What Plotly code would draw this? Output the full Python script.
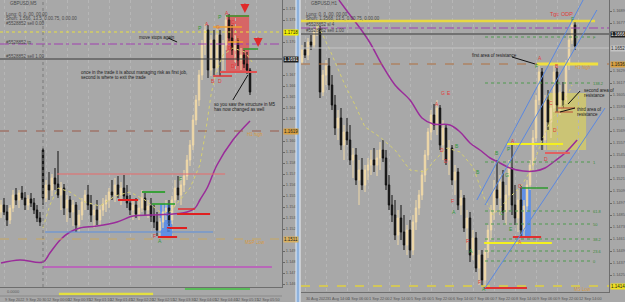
import plotly.graph_objects as go

W, H = 625, 302
BG = "#a8a8a8"
FONT = "Liberation Sans"

# ---------------- LEFT PANEL : GBPUSD,M5 ----------------
left_open = [1.1538,1.1545,1.1538,1.1530,1.1542,1.1555,1.1550,1.1557,1.1552,1.1545,
             1.1551,1.1547,1.1540,1.1532,1.1600,1.1552,1.1565,1.1560,1.1572,1.1566,
             1.1555,1.1562,1.1542,1.1550,1.1538,1.1545,1.1525,1.1535,1.1548,1.1555,
             1.1545,1.1535,1.1540,1.1530,1.1540,1.1546,1.1550,1.1558,1.1555,1.1565,
             1.1555,1.1562,1.1554,1.1547,1.1540,1.1545,1.1536,1.1542,1.1552,1.1540,
             1.1544,1.1534,1.1528,1.1520,1.1528,1.1538,1.1542,1.1530,1.1550,1.1562,
             1.1555,1.1565,1.1574,1.1590,1.1605,1.1630,1.1650,1.1675,1.1705,1.1720,
             1.1680,1.1710,1.1682,1.1715,1.1690,1.1705,1.1730,1.1712,1.1700,1.1708,
             1.1690,1.1695,1.1686,1.1680]
left_high = [1.1550,1.1552,1.1545,1.1545,1.1560,1.1562,1.1560,1.1564,1.1558,1.1555,
             1.1557,1.1552,1.1545,1.1538,1.1602,1.1570,1.1578,1.1576,1.1582,1.1599,
             1.1568,1.1566,1.1555,1.1554,1.1550,1.1548,1.1540,1.1552,1.1560,1.1565,
             1.1555,1.1545,1.1550,1.1545,1.1552,1.1555,1.1562,1.1570,1.1572,1.1574,
             1.1568,1.1575,1.1565,1.1555,1.1550,1.1552,1.1550,1.1560,1.1558,1.1550,
             1.1552,1.1545,1.1538,1.1532,1.1545,1.1550,1.1550,1.1554,1.1570,1.1574,
             1.1572,1.1580,1.1595,1.1610,1.1635,1.1655,1.1680,1.1710,1.1726,1.1725,
             1.1715,1.1720,1.1722,1.1720,1.1710,1.1734,1.1736,1.1725,1.1715,1.1712,
             1.1702,1.1700,1.1698,1.1682]
left_low = [1.1532,1.1535,1.1524,1.1526,1.1538,1.1545,1.1542,1.1550,1.1540,1.1540,
            1.1543,1.1536,1.1528,1.1524,1.1545,1.1548,1.1550,1.1554,1.1560,1.1552,
            1.1540,1.1535,1.1528,1.1532,1.1524,1.1518,1.1518,1.1530,1.1540,1.1540,
            1.1528,1.1522,1.1525,1.1524,1.1534,1.1538,1.1542,1.1550,1.1548,1.1552,
            1.1545,1.1550,1.1542,1.1535,1.1530,1.1532,1.1530,1.1538,1.1535,1.1532,
            1.1528,1.1522,1.1514,1.1512,1.1522,1.1530,1.1524,1.1526,1.1544,1.1550,
            1.1545,1.1558,1.1570,1.1584,1.1600,1.1625,1.1644,1.1670,1.1695,1.1672,
            1.1674,1.1675,1.1678,1.1674,1.1680,1.1700,1.1708,1.1695,1.1688,1.1684,
            1.1680,1.1682,1.1676,1.1655]
left_close = [1.1545,1.1538,1.1530,1.1542,1.1555,1.1550,1.1557,1.1552,1.1545,1.1551,
              1.1547,1.1540,1.1532,1.1528,1.1552,1.1565,1.1560,1.1572,1.1566,1.1555,
              1.1562,1.1542,1.1550,1.1538,1.1545,1.1525,1.1535,1.1548,1.1555,1.1545,
              1.1535,1.1540,1.1530,1.1540,1.1546,1.1550,1.1558,1.1555,1.1565,1.1555,
              1.1562,1.1554,1.1547,1.1540,1.1545,1.1536,1.1542,1.1552,1.1540,1.1544,
              1.1534,1.1528,1.1520,1.1528,1.1538,1.1542,1.1530,1.1550,1.1562,1.1555,
              1.1565,1.1574,1.1590,1.1605,1.1630,1.1650,1.1675,1.1705,1.1720,1.1680,
              1.1710,1.1682,1.1715,1.1690,1.1705,1.1730,1.1712,1.1700,1.1708,1.1690,
              1.1695,1.1686,1.1680,1.1658]

left_ma_x = [0, 6.3, 14, 16.3, 19.7, 23, 26.3, 32, 38.7, 44, 49.7, 57.3, 62, 64.7, 66.3, 68.7, 72, 77.3, 83]
left_ma_y = [1.1487, 1.1490, 1.1488, 1.1497, 1.1510, 1.1518, 1.1522, 1.1524, 1.1528, 1.1534,
             1.1535, 1.1536, 1.1538, 1.1542, 1.1550, 1.1562, 1.1585, 1.1610, 1.1629]
left_fast_x = [14, 16.3, 19, 23, 28, 33, 38, 43, 48, 53, 56.3, 59.7, 63, 66.3, 68.3, 70, 71.7, 74, 77.3, 81.3, 83.7]
left_fast_y = [1.1522, 1.1545, 1.1562, 1.1558, 1.1548, 1.1544, 1.1554, 1.1558, 1.1550, 1.1538,
               1.1538, 1.1550, 1.1562, 1.1585, 1.1620, 1.1655, 1.1678, 1.1695, 1.1702, 1.1698, 1.1688]

left_tick_pos = [1, 8, 15, 22, 29, 36, 43, 50, 57, 64, 71, 78, 85]
left_tick_text = ["9 Sep 2022", "9 Sep 20:30", "12 Sep 00:00", "12 Sep 00:35", "12 Sep 01:10",
                  "12 Sep 01:45", "12 Sep 02:20", "12 Sep 02:55", "12 Sep 03:30", "12 Sep 04:05",
                  "12 Sep 04:40", "12 Sep 05:15", "12 Sep 05:50"]
left_price_ticks = [1.1741, 1.1730, 1.1708, 1.1675, 1.1664, 1.1653, 1.1642, 1.1631,
                    1.1609, 1.1598, 1.1587, 1.1576, 1.1565, 1.1554, 1.1543, 1.1532, 1.1521,
                    1.1499, 1.1488, 1.1477, 1.1466]

# ---------------- RIGHT PANEL : GBPUSD,H1 ----------------
right_open = [1.1638,1.1650,1.1645,1.1658,1.1655,1.1668,1.1672,1.1608,1.1625,1.1634,
              1.1615,1.1595,1.1572,1.1582,1.1555,1.1568,1.1560,1.1540,1.1545,1.1520,
              1.1530,1.1515,1.1530,1.1535,1.1540,1.1535,1.1542,1.1550,1.1542,1.1515,
              1.1495,1.1485,1.1465,1.1482,1.1468,1.1455,1.1470,1.1450,1.1478,1.1492,
              1.1505,1.1525,1.1545,1.1568,1.1585,1.1575,1.1592,1.1555,1.1572,1.1540,
              1.1552,1.1520,1.1528,1.1495,1.1502,1.1472,1.1482,1.1445,1.1462,1.1432,
              1.1445,1.1420,1.1448,1.1470,1.1488,1.1510,1.1502,1.1518,1.1488,1.1505,
              1.1532,1.1495,1.1482,1.1500,1.1470,1.1494,1.1515,1.1535,1.1562,1.1600,
              1.1628,1.1560,1.1600,1.1578,1.1592,1.1628,1.1595,1.1608,1.1600,1.1635,
              1.1660,1.1675]
right_high = [1.1655,1.1658,1.1662,1.1665,1.1672,1.1677,1.1674,1.1630,1.1640,1.1642,
              1.1625,1.1605,1.1590,1.1592,1.1575,1.1582,1.1575,1.1552,1.1552,1.1540,
              1.1542,1.1535,1.1542,1.1550,1.1552,1.1550,1.1558,1.1560,1.1550,1.1525,
              1.1505,1.1500,1.1490,1.1495,1.1485,1.1475,1.1480,1.1485,1.1500,1.1510,
              1.1530,1.1550,1.1572,1.1590,1.1596,1.1600,1.1595,1.1580,1.1575,1.1560,
              1.1555,1.1535,1.1532,1.1510,1.1505,1.1490,1.1488,1.1470,1.1468,1.1450,
              1.1450,1.1452,1.1475,1.1495,1.1520,1.1540,1.1525,1.1530,1.1515,1.1540,
              1.1555,1.1515,1.1510,1.1515,1.1500,1.1520,1.1540,1.1570,1.1605,1.1634,
              1.1632,1.1605,1.1610,1.1600,1.1634,1.1632,1.1615,1.1618,1.1640,1.1665,
              1.1680,1.1678]
right_low = [1.1636,1.1642,1.1640,1.1650,1.1652,1.1664,1.1602,1.1604,1.1615,1.1610,
             1.1590,1.1565,1.1560,1.1550,1.1540,1.1555,1.1535,1.1522,1.1515,1.1495,
             1.1510,1.1508,1.1520,1.1525,1.1528,1.1524,1.1530,1.1538,1.1510,1.1490,
             1.1478,1.1460,1.1455,1.1460,1.1450,1.1445,1.1442,1.1445,1.1470,1.1485,
             1.1500,1.1518,1.1540,1.1560,1.1570,1.1565,1.1550,1.1540,1.1535,1.1525,
             1.1515,1.1505,1.1490,1.1485,1.1468,1.1450,1.1438,1.1440,1.1428,1.1415,
             1.1414,1.1414,1.1442,1.1460,1.1480,1.1495,1.1485,1.1480,1.1475,1.1490,
             1.1485,1.1475,1.1468,1.1462,1.1464,1.1488,1.1510,1.1530,1.1558,1.1595,
             1.1550,1.1550,1.1570,1.1562,1.1588,1.1588,1.1585,1.1592,1.1596,1.1630,
             1.1656,1.1650]
right_close = [1.1650,1.1645,1.1658,1.1655,1.1668,1.1672,1.1608,1.1625,1.1634,1.1615,
               1.1595,1.1572,1.1582,1.1555,1.1568,1.1560,1.1540,1.1545,1.1520,1.1530,
               1.1515,1.1530,1.1535,1.1540,1.1535,1.1542,1.1550,1.1542,1.1515,1.1495,
               1.1485,1.1465,1.1482,1.1468,1.1455,1.1470,1.1450,1.1478,1.1492,1.1505,
               1.1525,1.1545,1.1568,1.1585,1.1575,1.1592,1.1555,1.1572,1.1540,1.1552,
               1.1520,1.1528,1.1495,1.1502,1.1472,1.1482,1.1445,1.1462,1.1432,1.1445,
               1.1420,1.1448,1.1470,1.1488,1.1510,1.1502,1.1518,1.1488,1.1505,1.1532,
               1.1495,1.1482,1.1500,1.1470,1.1494,1.1515,1.1535,1.1562,1.1600,1.1628,
               1.1560,1.1600,1.1578,1.1592,1.1628,1.1595,1.1608,1.1600,1.1635,1.1660,
               1.1675,1.1654]

right_ma_x = [12.3, 16, 19.3, 22.7, 26.7, 31, 36, 40, 43.7, 49.3, 52.7, 56, 59.3, 62.7, 66, 69.3, 73.7, 77.7, 81, 84.3, 87.7, 91.7]
right_ma_y = [1.1700, 1.1685, 1.1672, 1.1657, 1.1635, 1.1615, 1.1600, 1.1582, 1.1576, 1.1575, 1.1568,
              1.1557, 1.1550, 1.1542, 1.1537, 1.1532, 1.1529, 1.1529, 1.1532, 1.1539, 1.1547, 1.1560]
right_fast_x = [5.3, 9.3, 14.3, 17.7, 21, 26, 31, 36, 41, 44.3, 48.3, 52.7, 57, 61, 63.7, 66.7, 70, 73.3, 76.7, 80, 83.3, 86.7, 90]
right_fast_y = [1.1675, 1.1650, 1.1615, 1.1595, 1.1573, 1.1563, 1.1550, 1.1530, 1.1528, 1.1540, 1.1552, 1.1548,
                1.1533, 1.1500, 1.1485, 1.1495, 1.1505, 1.1515, 1.1532, 1.1560, 1.1582, 1.1592, 1.1615]

right_tick_pos = [1, 8, 15, 22, 29, 36, 43, 50, 57, 64, 71, 78, 85, 92]
right_tick_text = ["30 Aug 2022", "31 Aug 14:00", "1 Sep 06:00", "1 Sep 22:00", "2 Sep 14:00",
                   "5 Sep 06:00", "5 Sep 22:00", "6 Sep 14:00", "7 Sep 06:00", "7 Sep 22:00",
                   "8 Sep 14:00", "9 Sep 06:00", "9 Sep 22:00", "12 Sep 14:00"]
right_price_ticks = [1.1689, 1.1677, 1.1629, 1.1617, 1.1605, 1.1593, 1.1581, 1.1569, 1.1557,
                     1.1545, 1.1533, 1.1521, 1.1509, 1.1497, 1.1485, 1.1473, 1.1461, 1.1449,
                     1.1437, 1.1425]

# levels (price) drawn across the full panel
left_full_levels = [1.1718, 1.1706, 1.1691, 1.1619, 1.1511]
right_full_levels = [1.1672, 1.1666, 1.1652, 1.1636, 1.1414]

# segments: (x0, x1, price)
left_segments = [(18.7, 74.7, 1.1576), (14.7, 70.7, 1.1518), (47, 54.7, 1.1558), (50.3, 58, 1.1546),
                 (39, 45.7, 1.1550), (59, 64.7, 1.1541), (58.7, 69.7, 1.1536), (55.3, 62, 1.1522),
                 (52.3, 58.7, 1.1513), (75, 82.7, 1.1734), (80.7, 85.7, 1.1701), (70.7, 80.3, 1.1723),
                 (75.7, 80.7, 1.1708), (73, 85.3, 1.1678), (70.7, 77, 1.1674), (14, 90.3, 1.1483)]
right_segments = [(-0.3, 97.7, 1.1679), (78.3, 98.7, 1.1636), (61, 96, 1.1663), (61, 96, 1.1617),
                  (61, 96, 1.1538), (61, 96, 1.1489), (61, 96, 1.1476), (61, 96, 1.1461), (61, 96, 1.1449),
                  (61, 96, 1.1439), (68.3, 87, 1.1556), (81, 89.3, 1.1547), (73.3, 82, 1.1512),
                  (70.3, 79.7, 1.1463), (60.7, 83.3, 1.1457), (60.7, 75, 1.1412), (85.3, 91, 1.1592),
                  (84.3, 90.3, 1.1588)]
# boxes: (x0, x1, price0, price1)
left_boxes = [(53, 57, 1.1514, 1.1546), (75, 82.7, 1.1678, 1.1735)]
right_boxes = [(81.7, 94.7, 1.1550, 1.1607), (73.3, 76.3, 1.1463, 1.1513)]
# sloped lines: (x0, price0, x1, price1)
left_slopes = [(77.3, 1.1650, 82.3, 1.1675), (55.7, 1.1712, 58.7, 1.1708)]
right_slopes = [(58.3, 1.1500, 93.7, 1.1700), (61, 1.1495, 98.3, 1.1690), (61, 1.1412, 101, 1.1592),
                (70, 1.1643, 77.7, 1.1636), (88.7, 1.1596, 92.7, 1.1609), (86, 1.1588, 91, 1.1592)]

# letters: (x, price, text, colour-key)
left_letters = [(66.3, 1.1722, "P", "g"), (68.7, 1.1726, "A", "r"), (72.3, 1.1723, "G", "o"),
                (73, 1.1733, "P", "g"), (75.3, 1.1737, "A", "r"), (77.3, 1.1728, "C", "r"),
                (79.3, 1.1712, "E", "o"), (76.3, 1.1702, "D", "r"), (77.3, 1.1684, "D", "r"),
                (70.7, 1.1669, "B", "r"), (73, 1.1669, "D", "r"), (59.7, 1.1571, "F", "g"),
                (51, 1.1514, "F", "r"), (53, 1.1509, "A", "g"), (55.7, 1.1536, "D", "b"),
                (56, 1.1528, "D", "b"), (56, 1.1520, "E", "b")]
right_letters = [(82, 1.1686, "Tgt: ODP", "r"), (90, 1.1681, "F", "g"), (79.3, 1.1642, "A", "r"),
                 (78.3, 1.1634, "F", "g"), (85, 1.1634, "B", "r"), (83, 1.1597, "C", "r"),
                 (84.3, 1.1570, "D", "r"), (81.3, 1.1541, "D", "r"), (47, 1.1607, "G", "r"),
                 (49, 1.1607, "E", "r"), (45, 1.1596, "A", "r"), (46.7, 1.1550, "D", "r"),
                 (48, 1.1539, "D", "r"), (51.7, 1.1554, "B", "g"), (65, 1.1547, "B", "g"),
                 (70.3, 1.1559, "A", "r"), (69, 1.1551, "P", "g"), (72.7, 1.1514, "C", "r"),
                 (58.7, 1.1528, "B", "g"), (68.3, 1.1525, "G", "g"), (50, 1.1499, "F", "r"),
                 (50.7, 1.1488, "A", "g"), (66.7, 1.1487, "C", "g"), (69.7, 1.1471, "E", "g"),
                 (55, 1.1459, "F", "r"), (56.3, 1.1449, "A", "g"), (59.3, 1.1418, "F", "r"),
                 (60.7, 1.1411, "A", "g"), (72.7, 1.1458, "A", "o")]
right_fib_labels = [(96.3, 1.1663, "F"), (96.3, 1.1617, "138.2"), (96.3, 1.1538, "1"), (96.3, 1.1489, "61.8"),
                    (96.3, 1.1476, "50"), (96.3, 1.1461, "38.2"), (96.3, 1.1449, "23.6"), (96.3, 1.1439, "0")]

# notes: (x, price, text)
left_notes = [(45.3, 1.1713, "move stops again"),
              (26, 1.1678, "once in the trade it is about managing risk as first job,"),
              (26, 1.1673, "second is where to exit the trade"),
              (70.3, 1.1646, "so you saw the structure in M5"),
              (70.3, 1.1641, "has now changed as well")]
right_notes = [(56, 1.1645, "first area of resistance"),
               (93.3, 1.1610, "second area of"), (93.3, 1.1605, "resistance"),
               (91, 1.1591, "third area of"), (91, 1.1586, "resistance")]
left_level_notes = [(81.3, 1.1616, "H1 high"), (80.7, 1.1508, "MSP Low")]
right_level_notes = [(90.3, 1.1633, "H1 high"), (90, 1.1411, "MS Low")]

# ---------------- figure ----------------
fig = go.Figure()
XL = [0, 282 / W]
XR = [301 / W, 609 / W]
YL = [1 - 287 / H, 1]
YR = [1 - 292 / H, 1]

def candles(o, h, l, c, xa, ya):
    return go.Candlestick(x=list(range(len(o))), open=o, high=h, low=l, close=c,
                          xaxis=xa, yaxis=ya, whiskerwidth=0, showlegend=False, hoverinfo="skip",
                          increasing=dict(line=dict(color="#f0d9a8", width=1), fillcolor="#f0d9a8"),
                          decreasing=dict(line=dict(color="#111111", width=1), fillcolor="#111111"))

fig.add_trace(go.Scatter(x=left_fast_x, y=left_fast_y, mode="lines", xaxis="x", yaxis="y",
                         line=dict(color="#d6d070", width=1, dash="dot"), showlegend=False, hoverinfo="skip"))
fig.add_trace(go.Scatter(x=right_fast_x, y=right_fast_y, mode="lines", xaxis="x2", yaxis="y2",
                         line=dict(color="#d6d070", width=1, dash="dot"), showlegend=False, hoverinfo="skip"))
fig.add_trace(candles(left_open, left_high, left_low, left_close, "x", "y"))
fig.add_trace(candles(right_open, right_high, right_low, right_close, "x2", "y2"))
fig.add_trace(go.Scatter(x=left_ma_x, y=left_ma_y, mode="lines", xaxis="x", yaxis="y", line_shape="spline",
                         line=dict(color="#9a2c9a", width=1.5), showlegend=False, hoverinfo="skip"))
fig.add_trace(go.Scatter(x=right_ma_x, y=right_ma_y, mode="lines", xaxis="x2", yaxis="y2", line_shape="spline",
                         line=dict(color="#9a2c9a", width=1.5), showlegend=False, hoverinfo="skip"))

shapes = []
left_full_style = [("#e8e040", 1, "dot"), ("#a040b0", 1, "dashdot"), ("#3a3a3a", 1, "solid"),
                   ("#9a5a4a", 1, "dash"), ("#c8a860", 1, "dash")]
for p, (col, w, d) in zip(left_full_levels, left_full_style):
    shapes.append(dict(type="line", xref="x domain", yref="y", x0=0, x1=1, y0=p, y1=p,
                       line=dict(color=col, width=w, dash=d)))
right_full_style = [("#a040b0", 1, "dashdot"), ("#3a3a3a", 1, "solid"),
                    ("#c4c4c4", 1, "solid"), ("#b07040", 1, "dash"), ("#e0d040", 1.5, "dash")]
for p, (col, w, d) in zip(right_full_levels, right_full_style):
    shapes.append(dict(type="line", xref="x2 domain", yref="y2", x0=0, x1=1, y0=p, y1=p,
                       line=dict(color=col, width=w, dash=d)))

left_seg_style = [("#e86a6a", 1, "solid"), ("#5b8fe0", 1, "solid"), ("#3aa03a", 2, "solid"),
                  ("#22a022", 1.5, "solid"), ("#e02020", 2, "solid"), ("#e03030", 1.5, "solid"),
                  ("#e02020", 2, "solid"), ("#e02020", 2, "solid"), ("#e02020", 2, "solid"),
                  ("#2e9a2e", 1.5, "solid"), ("#2e9a2e", 1.5, "solid"), ("#f0a030", 1.5, "solid"),
                  ("#f0a030", 1.5, "solid"), ("#e05050", 2, "solid"), ("#e03030", 1.5, "solid"),
                  ("#b868b8", 2, "solid")]
for (x0, x1, p), (col, w, d) in zip(left_segments, left_seg_style):
    shapes.append(dict(type="line", xref="x", yref="y", x0=x0, x1=x1, y0=p, y1=p,
                       line=dict(color=col, width=w, dash=d)))
right_seg_style = [("#e8d840", 2.5, "solid"), ("#f0e040", 3, "solid"), ("#4e9a4e", 1, "dot"), ("#4e9a4e", 1, "dot"),
                   ("#4e9a4e", 1, "dot"), ("#4e9a4e", 1, "dot"), ("#4e9a4e", 1, "dot"), ("#4e9a4e", 1, "dot"),
                   ("#4e9a4e", 1, "dot"), ("#4e9a4e", 1, "dot"), ("#f4f020", 2, "solid"), ("#e06060", 2, "solid"),
                   ("#2e9a2e", 1.5, "solid"), ("#e03030", 2, "solid"), ("#f4f020", 2, "solid"),
                   ("#e03030", 2, "solid"), ("#c06040", 1.2, "solid"), ("#c06040", 1.2, "solid")]
for (x0, x1, p), (col, w, d) in zip(right_segments, right_seg_style):
    shapes.append(dict(type="line", xref="x2", yref="y2", x0=x0, x1=x1, y0=p, y1=p,
                       line=dict(color=col, width=w, dash=d)))

left_box_style = ["rgba(85,140,240,0.85)", "rgba(230,80,80,0.75)"]
for (x0, x1, p0, p1), fc in zip(left_boxes, left_box_style):
    shapes.append(dict(type="rect", xref="x", yref="y", x0=x0, x1=x1, y0=p0, y1=p1,
                       fillcolor=fc, line=dict(width=0), layer="below"))
right_box_style = ["rgba(215,205,100,0.75)", "rgba(85,140,240,0.85)"]
for (x0, x1, p0, p1), fc in zip(right_boxes, right_box_style):
    shapes.append(dict(type="rect", xref="x2", yref="y2", x0=x0, x1=x1, y0=p0, y1=p1,
                       fillcolor=fc, line=dict(width=0), layer="below"))

for (x0, p0, x1, p1) in left_slopes:
    shapes.append(dict(type="line", xref="x", yref="y", x0=x0, x1=x1, y0=p0, y1=p1,
                       line=dict(color="#111111", width=1)))
right_slope_style = [("#5a88e0", 1), ("#5a88e0", 1), ("#5a88e0", 1), ("#111111", 1), ("#111111", 1), ("#111111", 1)]
for (x0, p0, x1, p1), (col, w) in zip(right_slopes, right_slope_style):
    shapes.append(dict(type="line", xref="x2", yref="y2", x0=x0, x1=x1, y0=p0, y1=p1,
                       line=dict(color=col, width=w)))

# session separator (left) at the weekly open candle
shapes.append(dict(type="line", xref="x", yref="y domain", x0=14, x1=14, y0=0, y1=1,
                   line=dict(color="#7a7a7a", width=1, dash="dot")))
# bottom bars under the left chart
shapes.append(dict(type="line", xref="x", yref="paper", x0=19.3, x1=50.7, y0=1 - 294 / H, y1=1 - 294 / H,
                   line=dict(color="#e4e040", width=2.5)))
shapes.append(dict(type="line", xref="x", yref="paper", x0=61.3, x1=83, y0=1 - 289 / H, y1=1 - 289 / H,
                   line=dict(color="#40c040", width=1.5)))
# frame: left indicator subwindow bottom line, panel separator
shapes.append(dict(type="line", xref="paper", yref="paper", x0=0, x1=282 / W, y0=1 - 296 / H, y1=1 - 296 / H,
                   line=dict(color="#8a8a8a", width=1)))
shapes.append(dict(type="rect", xref="paper", yref="paper", x0=296 / W, x1=300 / W, y0=0, y1=1,
                   fillcolor="#8fb2dc", line=dict(width=0)))
shapes.append(dict(type="line", xref="paper", yref="paper", x0=296 / W, x1=296 / W, y0=0, y1=1,
                   line=dict(color="#e6eef8", width=1)))
shapes.append(dict(type="line", xref="paper", yref="paper", x0=300 / W, x1=300 / W, y0=0, y1=1,
                   line=dict(color="#eef2f8", width=1)))

ann = []
colmap = {"r": "#e03a3a", "g": "#2f9a3a", "o": "#e07030", "b": "#3a6ab8"}
for (x, p, t, c) in left_letters:
    ann.append(dict(x=x, y=p, xref="x", yref="y", text=t, showarrow=False,
                    font=dict(size=5, color=colmap[c], family=FONT)))
for (x, p, t, c) in right_letters:
    ann.append(dict(x=x, y=p, xref="x2", yref="y2", text=t, showarrow=False,
                    xanchor="left" if len(t) > 1 else "center",
                    font=dict(size=5.5 if len(t) > 1 else 5, color=colmap[c], family=FONT)))
for (x, p, t) in right_fib_labels:
    ann.append(dict(x=x, y=p, xref="x2", yref="y2", text=t, showarrow=False, xanchor="left",
                    font=dict(size=4, color="#3a8a3a", family=FONT)))
for (x, p, t) in left_notes:
    ann.append(dict(x=x, y=p, xref="x", yref="y", text=t, showarrow=False, xanchor="left",
                    font=dict(size=4.5, color="#1a1a1a", family=FONT)))
for (x, p, t) in right_notes:
    ann.append(dict(x=x, y=p, xref="x2", yref="y2", text=t, showarrow=False, xanchor="left",
                    font=dict(size=4.5, color="#1a1a1a", family=FONT)))
for (x, p, t) in left_level_notes:
    ann.append(dict(x=x, y=p, xref="x", yref="y", text=t, showarrow=False, xanchor="left",
                    font=dict(size=4.5, color="#d89a40", family=FONT)))
for (x, p, t) in right_level_notes:
    ann.append(dict(x=x, y=p, xref="x2", yref="y2", text=t, showarrow=False, xanchor="left",
                    font=dict(size=4.5, color="#d89a40", family=FONT)))

# red down arrows (left)
left_arrows = [(81.3, 1.1737), (85.7, 1.1703)]
for (x, p) in left_arrows:
    ann.append(dict(x=x, y=p, xref="x", yref="y", text="", showarrow=True, ax=0, ay=-11,
                    arrowhead=2, arrowsize=1.4, arrowwidth=1.3, arrowcolor="#e02a2a"))

# price-axis boxes: (price, bg, fg)
left_axis_boxes = [(1.1718, "#f2f000", "#202020"), (1.1691, "#1e1e1e", "#ffffff"),
                   (1.1619, "#d8a040", "#202020"), (1.1511, "#d8b060", "#202020")]
for (p, bg, fg) in left_axis_boxes:
    ann.append(dict(x=282.5 / W, y=p, xref="paper", yref="y", text=f"{p:.4f}", showarrow=False,
                    xanchor="left", bgcolor=bg, borderpad=0, font=dict(size=4.5, color=fg, family=FONT)))
right_axis_boxes = [(1.1666, "#1e1e1e", "#ffffff"), (1.1652, "#c4c4c4", "#303030"),
                    (1.1636, "#d8a040", "#202020"), (1.1414, "#f0e020", "#202020")]
for (p, bg, fg) in right_axis_boxes:
    ann.append(dict(x=609.5 / W, y=p, xref="paper", yref="y2", text=f"{p:.4f}", showarrow=False,
                    xanchor="left", bgcolor=bg, borderpad=0, font=dict(size=4.5, color=fg, family=FONT)))

# head-up text (top-left of each panel)
left_hud = [(8, 4, "GBPUSD,M5"), (4, 14, "Long: 0, 0, 00, 00.00"),
            (4, 19, "Short: 1.566, 13.5, 0.00.75, 0.00.00"), (4, 24, "#5528852 sell 0.00"),
            (4, 42, "#5528852 tp"), (4, 57, "#5528852 sell 1.00")]
right_hud = [(309, 4, "GBPUSD,H1"), (304, 14, "Long: 0, 0, 00, 00.00"),
             (304, 19, "Short: 1.3568, 13.5, 0.00.75, 0.00.00"), (304, 25, "#5528852 sl 4"),
             (304, 31, "#5528852 sell 1.00")]
for (px, py, t) in left_hud + right_hud:
    ann.append(dict(x=px / W, y=1 - py / H, xref="paper", yref="paper", text=t, showarrow=False,
                    xanchor="left", yanchor="middle", font=dict(size=4.5, color="#4a4a4a", family=FONT)))
ann.append(dict(x=5 / W, y=1 - 291 / H, xref="paper", yref="paper", text="0.0000", showarrow=False,
                xanchor="left", yanchor="middle", font=dict(size=4, color="#5a5a5a", family=FONT)))

axis_common = dict(showgrid=True, gridcolor="#b6b6b6", griddash="dot", gridwidth=1, zeroline=False,
                   showline=True, linecolor="#6e6e6e", linewidth=1, tickangle=0,
                   tickfont=dict(size=3.8, color="#555555", family=FONT), tickmode="array",
                   ticks="outside", tickcolor=BG, ticklabelposition="outside right",
                   rangeslider=dict(visible=False), fixedrange=True)
yaxis_common = dict(side="right", showgrid=False, zeroline=False, showline=True, linecolor="#6e6e6e",
                    linewidth=1, tickformat=".4f", tickmode="array", ticks="outside", ticklen=2,
                    tickcolor="#666666", tickfont=dict(size=4, color="#555555", family=FONT), fixedrange=True)

fig.update_layout(
    width=W, height=H, margin=dict(l=0, r=0, t=0, b=0),
    paper_bgcolor=BG, plot_bgcolor=BG, showlegend=False,
    xaxis=dict(domain=XL, range=[-1 / 3, 93 + 2 / 3], anchor="y", tickvals=left_tick_pos,
               ticktext=left_tick_text, ticklen=2, ticklabelstandoff=8, **axis_common),
    yaxis=dict(domain=YL, range=[1.1463, 1.1750], anchor="x", tickvals=left_price_ticks, **yaxis_common),
    xaxis2=dict(domain=XR, range=[-1 / 3, 102 + 1 / 3], anchor="y2", tickvals=right_tick_pos,
                ticktext=right_tick_text, ticklen=2, ticklabelstandoff=2, **axis_common),
    yaxis2=dict(domain=YR, range=[1.1408, 1.1700], anchor="x2", tickvals=right_price_ticks, **yaxis_common),
    shapes=shapes, annotations=ann,
)

fig.write_html("out.html")
